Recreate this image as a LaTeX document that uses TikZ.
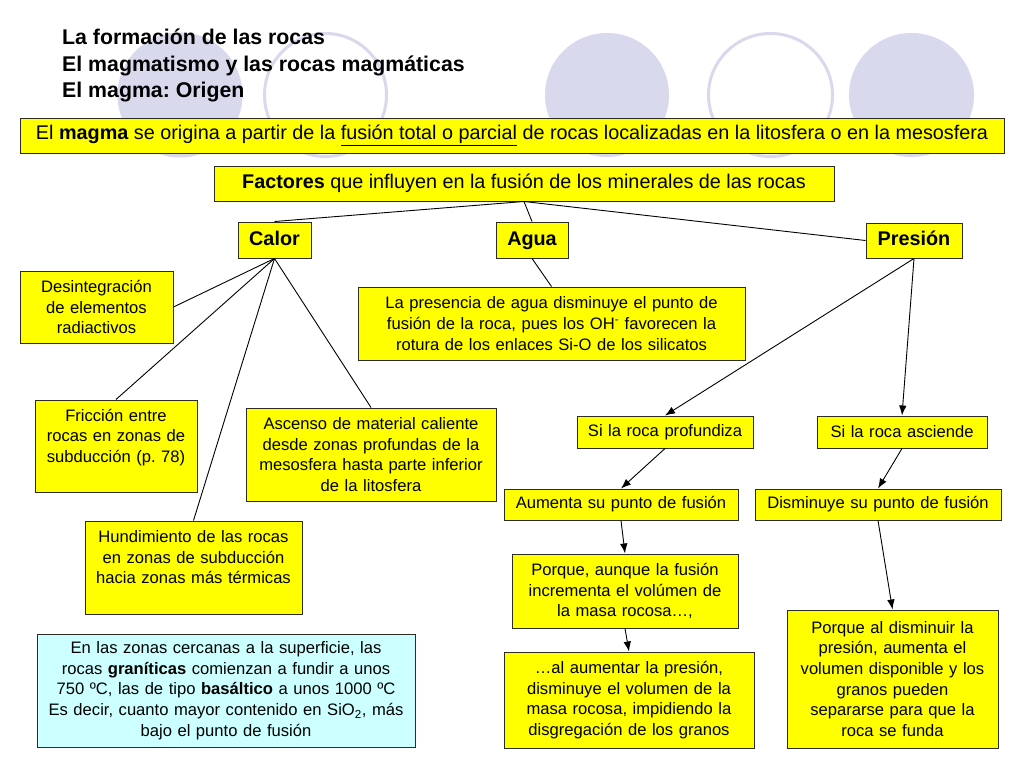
\documentclass[tikz,border=0pt]{standalone}
\usepackage{fontspec}
\setmainfont{Liberation Sans}
\usetikzlibrary{arrows.meta}
\frenchspacing
\definecolor{circ}{RGB}{217,217,237}
\definecolor{boxy}{RGB}{255,255,0}
\definecolor{boxc}{RGB}{204,255,255}
\definecolor{edge}{RGB}{45,45,35}
\tikzset{
  box/.style={draw=edge, fill=boxy, line width=1pt, inner sep=0pt, align=center,
    font=\fontsize{16.6}{20.7}\selectfont},
  bigbox/.style={box, font=\fontsize{19.8}{23}\selectfont},
  keybox/.style={bigbox, font=\fontsize{19.8}{23}\selectfont\bfseries, text height=14pt, text depth=4pt},
  titl/.style={anchor=base west, inner sep=0pt, font=\fontsize{21.3}{26}\selectfont\bfseries},
  link/.style={line width=0.9pt, draw=black},
  arr/.style={link, -{Latex[length=10pt,width=7.5pt]}},
}
\begin{document}
\begin{tikzpicture}[x=1pt,y=-1pt]
\useasboundingbox (0,0) rectangle (1024,768);
\fill[white] (0,0) rectangle (1024,768);
% background circles
\fill[circ] (180,95) ellipse[x radius=62.5, y radius=62.5];
\draw[circ, line width=3pt] (325.5,95) ellipse[x radius=61, y radius=61.5];
\fill[circ] (607,95) ellipse[x radius=62, y radius=62];
\draw[circ, line width=3pt] (770.5,95) ellipse[x radius=62, y radius=61.5];
\fill[circ] (911.5,95) ellipse[x radius=62.5, y radius=62];
% title
\node[titl] (t1) at (62,45) {La formación de las rocas};
\node[titl] (t2) at (62,71) {El magmatismo y las rocas magmáticas};
\node[titl] (t3) at (62,97) {El magma: Origen};
% boxes
\node[bigbox, minimum width=984pt, minimum height=35pt] (magma) at (512,135.5)
 {El \textbf{magma} se origina a partir de la \underline{fusión total o parcial} de rocas localizadas en la litosfera o en la mesosfera};
\node[bigbox, minimum width=620pt, minimum height=35pt] (fact) at (524,183.5)
 {\textbf{Factores} que influyen en la fusión de los minerales de las rocas};
\node[keybox, minimum width=73pt, minimum height=36pt] (calor) at (274.5,240) {Calor};
\node[keybox, minimum width=72pt, minimum height=36pt] (agua) at (532,240) {Agua};
\node[keybox, minimum width=96pt, minimum height=35pt] (pres) at (914,240.5) {Presión};
\node[box, minimum width=153pt, minimum height=72pt, text width=150pt] (desint) at (96.5,307)
 {Desintegración\\de elementos\\radiactivos};
\node[box, minimum width=387pt, minimum height=73pt, text width=383pt] (prese) at (551.5,323.5)
 {La presencia de agua disminuye el punto de\\fusión de la roca, pues los OH\textsuperscript{-} favorecen la\\rotura de los enlaces Si-O de los silicatos};
\node[box, minimum width=162pt, minimum height=92pt, text width=158pt] (fric) at (116,446)
 {Fricción entre\\rocas en zonas de\\subducción (p. 78)\\\mbox{}};
\node[box, minimum width=250pt, minimum height=93pt, text width=246pt] (asc) at (371,454.5)
 {Ascenso de material caliente\\desde zonas profundas de la\\mesosfera hasta parte inferior\\de la litosfera};
\node[box, minimum width=217pt, minimum height=93pt, text width=213pt] (hund) at (193.5,567.5)
 {Hundimiento de las rocas\\en zonas de subducción\\hacia zonas más térmicas\\\mbox{}};
\node[box, fill=boxc, minimum width=378pt, minimum height=113pt, text width=374pt] (blue) at (226,690.5)
 {En las zonas cercanas a la superficie, las\\rocas \textbf{graníticas} comienzan a fundir a unos\\750 ºC, las de tipo \textbf{basáltico} a unos 1000 ºC\\Es decir, cuanto mayor contenido en SiO\textsubscript{2}, más\\bajo el punto de fusión};
\node[box, minimum width=176pt, minimum height=32pt, text width=172pt] (prof) at (665,432) {Si la roca profundiza};
\node[box, minimum width=170pt, minimum height=32pt, text width=166pt] (ascd) at (902,432) {Si la roca asciende};
\node[box, minimum width=234pt, minimum height=31pt, text width=230pt] (aum) at (621,504.5) {Aumenta su punto de fusión};
\node[box, minimum width=246pt, minimum height=31pt, text width=242pt] (dism) at (878,504.5) {Disminuye su punto de fusión};
\node[box, minimum width=226pt, minimum height=74pt, text width=222pt] (porq) at (625,591)
 {Porque, aunque la fusión\\incrementa el volúmen de\\la masa rocosa…,};
\node[box, minimum width=250pt, minimum height=96pt, text width=246pt] (alaum) at (629,700)
 {…al aumentar la presión,\\disminuye el volumen de la\\masa rocosa, impidiendo la\\disgregación de los granos};
\node[box, minimum width=211pt, minimum height=138pt, text width=207pt] (porq2) at (892.5,679)
 {Porque al disminuir la\\presión, aumenta el\\volumen disponible y los\\granos pueden\\separarse para que la\\roca se funda};
% connectors
\draw[link] (fact.south) -- (calor.north);
\draw[link] (fact.south) -- (agua.north);
\draw[link] (fact.south) -- (pres.west);
\draw[link] (agua.south) -- (prese.north);
\draw[link] (calor.south) -- (desint.east);
\draw[link] (calor.south) -- (fric.north);
\draw[link] (calor.south) -- (hund.north);
\draw[link] (calor.south) -- (asc.north);
\draw[arr] (pres.south) -- (prof.north);
\draw[arr] (pres.south) -- (ascd.north);
\draw[arr] (prof.south) -- (aum.north);
\draw[arr] (ascd.south) -- (dism.north);
\draw[arr] (aum.south) -- (porq.north);
\draw[arr] (porq.south) -- (alaum.north);
\draw[arr] (dism.south) -- (porq2.north);
\end{tikzpicture}
\end{document}
